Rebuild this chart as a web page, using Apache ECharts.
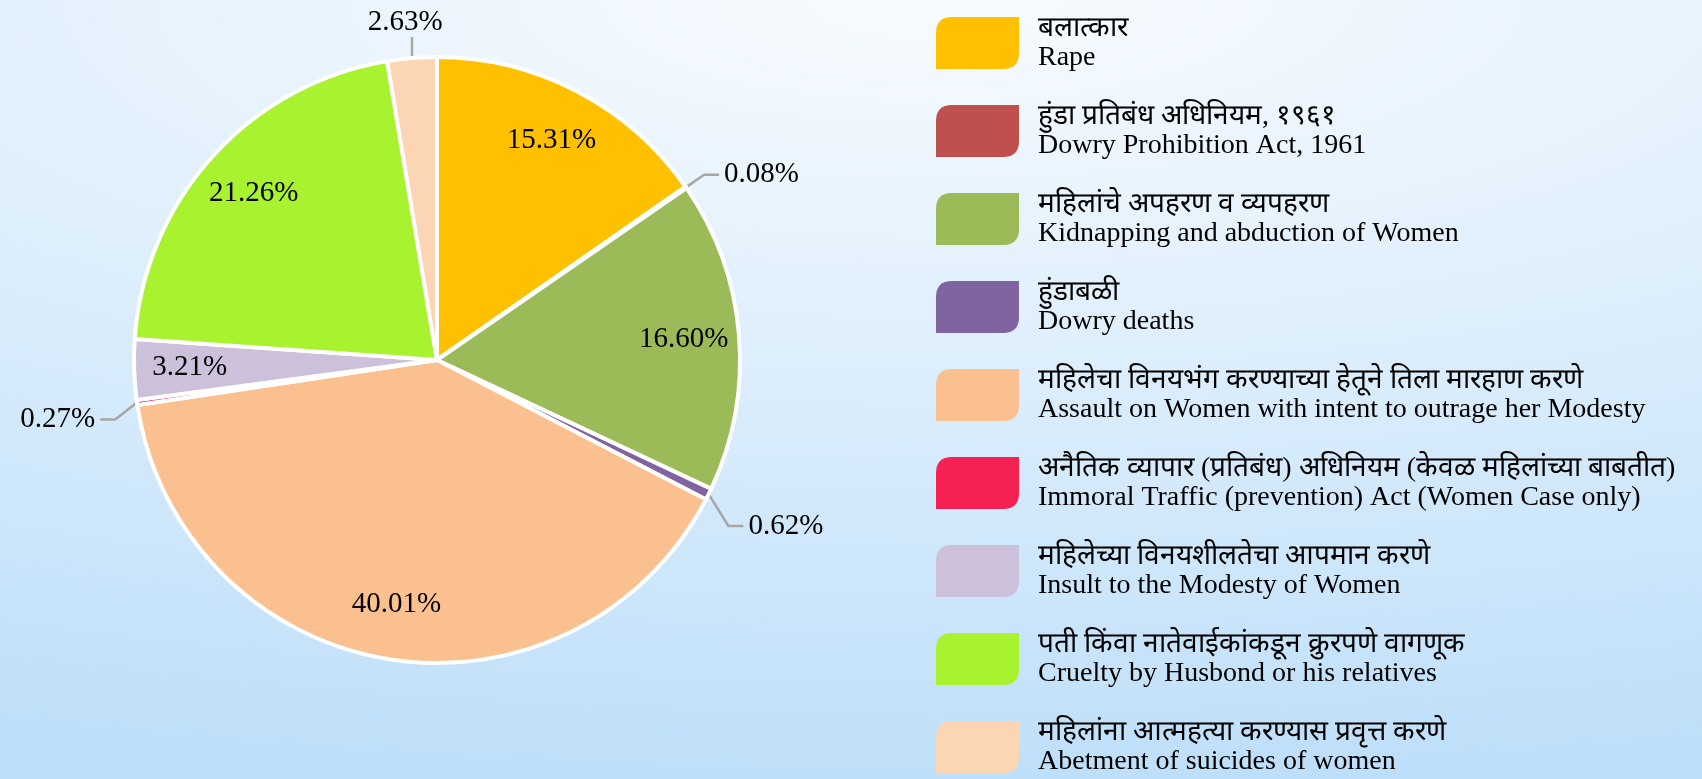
<!DOCTYPE html>
<html>
<head>
<meta charset="utf-8">
<script src="https://cdn.jsdelivr.net/npm/echarts@6/dist/echarts.min.js"></script>
<style>
  html, body { margin: 0; padding: 0; }
  #main {
    width: 1702px; height: 779px;
    background: radial-gradient(ellipse 150% 100% at 55% 0%, #F8FBFE 0%, #BEDFF9 100%);
  }
</style>
</head>
<body>
<div id="main"></div>
<script>
  // categories (Marathi + English)
  const namesMr = [
    "बलात्कार",
    "हुंडा प्रतिबंध अधिनियम, १९६१",
    "महिलांचे अपहरण व व्यपहरण",
    "हुंडाबळी",
    "महिलेचा विनयभंग करण्याच्या हेतूने तिला मारहाण करणे",
    "अनैतिक व्यापार (प्रतिबंध) अधिनियम (केवळ महिलांच्या बाबतीत)",
    "महिलेच्या विनयशीलतेचा आपमान करणे",
    "पती किंवा नातेवाईकांकडून क्रुरपणे वागणूक",
    "महिलांना आत्महत्या करण्यास प्रवृत्त करणे"
  ];
  const namesEn = [
    "Rape",
    "Dowry Prohibition Act, 1961",
    "Kidnapping and abduction of Women",
    "Dowry deaths",
    "Assault on Women with intent to outrage her Modesty",
    "Immoral Traffic (prevention) Act (Women Case only)",
    "Insult to the Modesty of Women",
    "Cruelty by Husbond or his relatives",
    "Abetment of suicides of women"
  ];
  // share in percent
  const shares = [15.31, 0.08, 16.60, 0.62, 40.01, 0.27, 3.21, 21.26, 2.63];
  const colors = ["#FFC000", "#C0504D", "#9BBB59", "#8064A2", "#FAC090", "#F62153", "#CCC0DA", "#A9F22F", "#FCD5B5"];
  // which slices carry their label inside
  const inside = [true, false, true, false, true, false, true, true, false];

  const font = "'Liberation Serif', 'Times New Roman', serif";
  const names = namesMr.map((m, i) => m + "\n" + namesEn[i]);

  const chart = echarts.init(document.getElementById("main"));

  const outerData = shares.map((v, i) => ({
    name: names[i],
    value: v,
    itemStyle: { color: colors[i] },
    label: { show: !inside[i] },
    labelLine: i === 8 ? { show: true, length: 21, length2: 0 } : { show: !inside[i] }
  }));

  const innerData = shares.map((v, i) => ({
    name: names[i],
    value: v,
    label: { show: inside[i] }
  }));

  // drop some outside labels a bit, bending their leader line with them
  const drop = { 3: 22, 5: 14 };
  const outLayout = (p) => {
    const pts = p.labelLinePoints;
    if (p.dataIndex === 8) {
      if (!pts) return { align: "center", verticalAlign: "bottom" };
      const x0 = pts[0][0];
      return {
        align: "center",
        verticalAlign: "bottom",
        labelLinePoints: [pts[0], [x0, pts[1][1]], [x0, pts[2][1]]]
      };
    }
    const d = drop[p.dataIndex];
    if (d && pts) {
      return {
        dy: d,
        labelLinePoints: [pts[0], [pts[1][0], pts[1][1] + d], [pts[2][0], pts[2][1] + d]]
      };
    }
    return {};
  };

  const option = {
    backgroundColor: "transparent",
    legend: {
      orient: "vertical",
      left: 936,
      top: 14,
      height: 765,
      padding: 0,
      itemWidth: 83,
      itemHeight: 52,
      itemGap: 30,
      icon: "path://M16,0 L83,0 L83,36 Q83,52 67,52 L0,52 L0,16 Q0,0 16,0 Z",
      itemStyle: { borderWidth: 0 },
      textStyle: {
        fontFamily: font,
        fontSize: 28,
        lineHeight: 29,
        color: "#000",
        padding: [0, 0, 0, 14]
      },
      data: names
    },
    series: [
      {
        type: "pie",
        center: [437, 360],
        radius: 303,
        startAngle: 90,
        avoidLabelOverlap: false,
        itemStyle: { borderColor: "#fff", borderWidth: 4 },
        label: {
          position: "outside",
          formatter: (p) => p.value.toFixed(2) + "%",
          fontFamily: font,
          fontSize: 29,
          color: "#000"
        },
        labelLine: {
          length: 22,
          length2: 15,
          lineStyle: { color: "#A6A6A6", width: 2.5 }
        },
        labelLayout: outLayout,
        emphasis: { disabled: true },
        data: outerData
      },
      {
        // transparent ring only to place the inner labels further out
        type: "pie",
        center: [437, 360],
        radius: [186, 303],
        startAngle: 90,
        silent: true,
        avoidLabelOverlap: false,
        itemStyle: { color: "rgba(0,0,0,0)", borderWidth: 0 },
        label: {
          position: "inside",
          formatter: (p) => p.value.toFixed(2) + "%",
          fontFamily: font,
          fontSize: 29,
          color: "#000"
        },
        labelLine: { show: false },
        emphasis: { disabled: true },
        data: innerData
      }
    ]
  };

  chart.setOption(option);
</script>
</body>
</html>
